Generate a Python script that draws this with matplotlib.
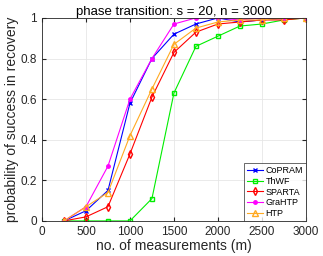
import matplotlib
matplotlib.use("Agg")
import matplotlib.pyplot as plt

plt.rcParams['font.family'] = ['Liberation Sans', 'DejaVu Sans']

# measurements
m = [250, 500, 750, 1000, 1250, 1500, 1750, 2000, 2250, 2500, 2750, 3000]

copram = [0, 0.05, 0.15, 0.58, 0.80, 0.92, 0.97, 1.0, 0.98, 0.99, 1.0, 1.0]
thwf = [0, 0, 0, 0, 0.11, 0.63, 0.86, 0.91, 0.96, 0.97, 0.99, 1.0]
sparta = [0, 0.02, 0.07, 0.33, 0.61, 0.83, 0.93, 0.97, 0.98, 0.99, 0.99, 1.0]
grahtp = [0, 0.07, 0.27, 0.60, 0.80, 0.97, 1.0, 1.0, 0.99, 1.0, 1.0, 1.0]
htp = [0, 0.07, 0.14, 0.42, 0.65, 0.87, 0.95, 0.98, 0.99, 0.99, 1.0, 1.0]

fig = plt.figure(figsize=(3.23, 2.56), dpi=100)
ax = fig.add_axes([0.130, 0.137, 0.817, 0.793])

ax.plot(m, copram, color="blue", marker="x", ms=3, lw=0.8, label="CoPRAM")
ax.plot(m, thwf, color="#00ee00", marker="s", ms=3.5, mfc="none", lw=0.8, label="ThWF")
ax.plot(m, sparta, color="red", marker="d", ms=4, mfc="none", lw=0.8, label="SPARTA")
ax.plot(m, grahtp, color="#ff00ff", marker="o", ms=2.5, lw=0.8, label="GraHTP")
ax.plot(m, htp, color="#ffaa22", marker="^", ms=4, mfc="none", lw=0.8, label="HTP")

ax.set_xlim(0, 3000)
ax.set_ylim(0, 1)
ax.set_xticks([0, 500, 1000, 1500, 2000, 2500, 3000])
ax.set_yticks([0, 0.2, 0.4, 0.6, 0.8, 1])
ax.set_yticklabels(["0", "0.2", "0.4", "0.6", "0.8", "1"])
ax.grid(True, color="#e6e6e6", lw=0.6)
ax.set_axisbelow(True)
ax.tick_params(direction="in", labelsize=8.5, colors="#262626", length=3, top=True, right=True)
for s in ax.spines.values():
    s.set_color("#262626")
    s.set_linewidth(0.6)

ax.set_xlabel("no. of measurements (m)", fontsize=10, color="#262626", labelpad=1)
ax.set_ylabel("probability of success in recovery", fontsize=10, color="#262626", labelpad=1)
ax.set_title("phase transition: s = 20, n = 3000", fontsize=9.5, pad=2)

leg = ax.legend(loc="lower right", fontsize=6.5, frameon=True, fancybox=False,
                borderaxespad=0.0, handlelength=1.8, handletextpad=0.3,
                borderpad=0.3, labelspacing=0.2)
leg.get_frame().set_edgecolor("#262626")
leg.get_frame().set_linewidth(0.6)

fig.savefig("out.png", dpi=100)
